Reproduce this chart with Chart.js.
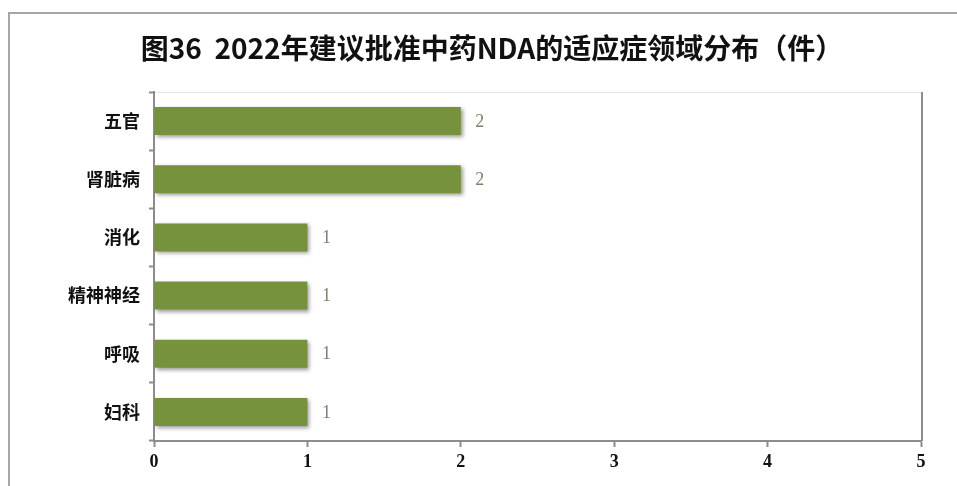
<!DOCTYPE html>
<html>
<head>
<meta charset="utf-8">
<script src="https://cdn.jsdelivr.net/npm/chart.js@4/dist/chart.umd.min.js"></script>
<style>
  html, body { margin: 0; padding: 0; background: #fff; }
  #wrap { width: 957px; height: 486px; }
</style>
</head>
<body>
<div id="wrap"><canvas id="chart"></canvas></div>
<script>
const titulo = "图36  2022年建议批准中药NDA的适应症领域分布（件）";
const areas = ["五官", "肾脏病", "消化", "精神神经", "呼吸", "妇科"];
const casos = [2, 2, 1, 1, 1, 1];
const eixoX = [0, 1, 2, 3, 4, 5];

const corBarra = "#76923c";
const fonteCJK = "'Noto Sans CJK SC', sans-serif";
const fonteNum = "'Liberation Serif', serif";

// moldura externa, borda da area do grafico e titulo
const moldura = {
  id: "moldura",
  beforeDraw(chart) {
    const { ctx, chartArea } = chart;
    ctx.save();
    ctx.fillStyle = "#fff";
    ctx.fillRect(0, 0, chart.width, chart.height);
    ctx.strokeStyle = "#a6a6a6";
    ctx.lineWidth = 2;
    ctx.beginPath();
    ctx.moveTo(9, chart.height + 5);
    ctx.lineTo(9, 13);
    ctx.lineTo(chart.width + 5, 13);
    ctx.stroke();

    ctx.strokeStyle = "#e4e4e4";
    ctx.lineWidth = 1;
    ctx.beginPath();
    ctx.moveTo(chartArea.left, chartArea.top + 0.5);
    ctx.lineTo(chartArea.right, chartArea.top + 0.5);
    ctx.stroke();
    ctx.strokeStyle = "#8c8c8c";
    ctx.lineWidth = 2;
    ctx.beginPath();
    ctx.moveTo(chartArea.right + 1, chartArea.top);
    ctx.lineTo(chartArea.right + 1, chartArea.bottom);
    ctx.stroke();

    ctx.fillStyle = "#111";
    ctx.font = "bold 28px " + fonteCJK;
    ctx.textAlign = "center";
    ctx.textBaseline = "middle";
    ctx.fillText(titulo, 492, 48);
    ctx.restore();
  },
};

// sombra das barras
const sombra = {
  id: "sombra",
  beforeDatasetDraw(chart) {
    const ctx = chart.ctx;
    ctx.save();
    ctx.shadowColor = "rgba(0,0,0,0.4)";
    ctx.shadowBlur = 4;
    ctx.shadowOffsetX = 2;
    ctx.shadowOffsetY = 2;
  },
  afterDatasetDraw(chart) {
    chart.ctx.restore();
  },
};

// rotulos de valor
const rotulos = {
  id: "rotulos",
  afterDatasetsDraw(chart) {
    const ctx = chart.ctx;
    const meta = chart.getDatasetMeta(0);
    ctx.save();
    ctx.fillStyle = "#80806a";
    ctx.font = "18px " + fonteNum;
    ctx.textAlign = "center";
    ctx.textBaseline = "middle";
    meta.data.forEach((barra, i) => {
      ctx.fillText(String(casos[i]), barra.x + 19, barra.y + 1);
    });
    ctx.restore();
  },
};

new Chart(document.getElementById("chart"), {
  type: "bar",
  data: {
    labels: areas,
    datasets: [
      {
        data: casos,
        backgroundColor: corBarra,
        categoryPercentage: 1,
        barPercentage: 0.48,
      },
    ],
  },
  options: {
    indexAxis: "y",
    responsive: true,
    maintainAspectRatio: false,
    animation: false,
    events: [],
    layout: { padding: { top: 92, right: 36, left: 0, bottom: 0 } },
    plugins: {
      legend: { display: false },
      title: { display: false },
      tooltip: { enabled: false },
    },
    scales: {
      x: {
        min: 0,
        max: 5,
        afterBuildTicks(scale) {
          scale.ticks = eixoX.map((v) => ({ value: v }));
        },
        afterFit(scale) {
          scale.height = 45;
        },
        border: { color: "#8c8c8c", width: 2 },
        grid: {
          drawOnChartArea: false,
          tickLength: 6,
          tickColor: "#8c8c8c",
          tickWidth: 2,
        },
        ticks: {
          color: "#111",
          padding: 5,
          font: { family: fonteNum, size: 18, weight: "bold" },
        },
      },
      y: {
        afterFit(scale) {
          scale.width = 154;
        },
        border: { color: "#8c8c8c", width: 2 },
        grid: {
          offset: true,
          drawOnChartArea: false,
          tickLength: 5,
          tickColor: "#8c8c8c",
          tickWidth: 2,
        },
        ticks: {
          color: "#111",
          padding: 9,
          font: { family: fonteCJK, size: 18, weight: "bold" },
        },
      },
    },
  },
  plugins: [moldura, sombra, rotulos],
});
</script>
</body>
</html>
